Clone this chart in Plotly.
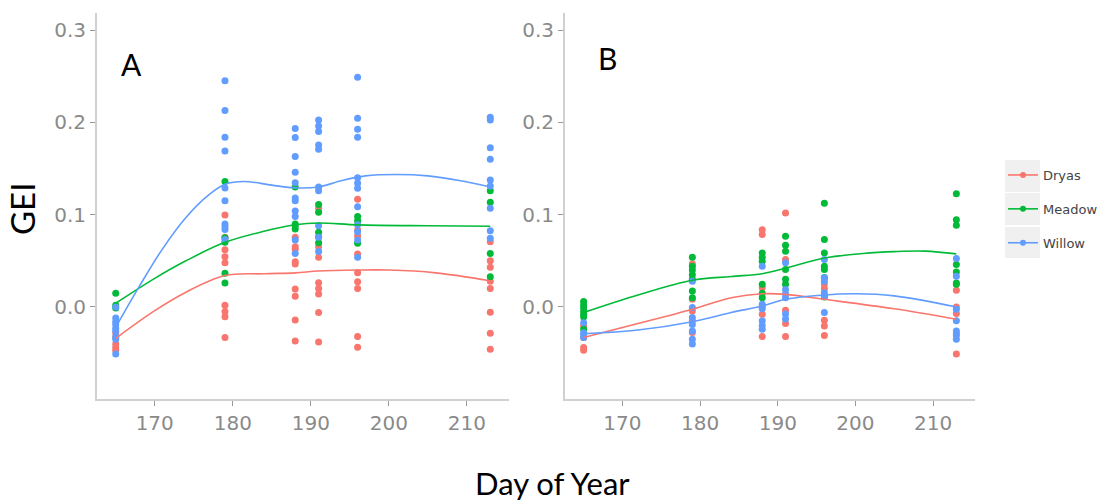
import plotly.graph_objects as go

# ---------------- data ----------------
DAYS = [165, 179, 188, 191, 196, 213]
GROUPS = ["Dryas", "Meadow", "Willow"]
COLORS = {"Dryas": "#F8766D", "Meadow": "#00BA38", "Willow": "#619CFF"}

# Panel A points (per day, aligned with DAYS)
A_DRYAS = [
    [-0.028, -0.033, -0.040, -0.044, -0.047],
    [0.0997, 0.0755, 0.062, 0.0545, 0.048, 0.002, -0.005, -0.0105, -0.033],
    [0.0755, 0.0653, 0.0625, 0.049, 0.0466, 0.0195, 0.0116, -0.014, -0.0368],
    [0.107, 0.0653, 0.0538, 0.0263, 0.020, 0.014, -0.006, -0.038],
    [0.1167, 0.0834, 0.077, 0.0574, 0.0372, 0.0274, 0.020, -0.032, -0.0437],
    [0.0708, 0.050, 0.043, 0.028, 0.020, -0.0057, -0.0285, -0.0458],
]
A_MEADOW = [
    [0.015, 0.002, -0.001],
    [0.136, 0.075, 0.070, 0.0365, 0.026],
    [0.130, 0.090, 0.088, 0.0845],
    [0.111, 0.1026, 0.081, 0.076, 0.0697],
    [0.098, 0.0935, 0.069],
    [0.126, 0.1134, 0.058, 0.0328],
]
A_WILLOW = [
    [0.0, -0.012, -0.016, -0.019, -0.023, -0.026, -0.032, -0.035, -0.051],
    [0.245, 0.213, 0.184, 0.169, 0.129, 0.115, 0.090, 0.087, 0.084, 0.073],
    [0.1935, 0.1835, 0.163, 0.146, 0.1347, 0.118, 0.115, 0.104, 0.098, 0.0726, 0.058],
    [0.2026, 0.196, 0.190, 0.1755, 0.171, 0.130, 0.126, 0.088, 0.0755, 0.060],
    [0.249, 0.2044, 0.1925, 0.184, 0.140, 0.134, 0.1286, 0.1087, 0.089, 0.0816, 0.0726, 0.054],
    [0.2055, 0.2026, 0.1726, 0.160, 0.1376, 0.131, 0.107, 0.0827, 0.0744],
]

# Panel B points
B_DRYAS = [
    [-0.0205, -0.033, -0.044, -0.047],
    [0.0467, 0.0083, -0.0043, -0.015, -0.0277],
    [0.0838, 0.0784, 0.0208, 0.0, -0.008, -0.032],
    [0.1017, 0.0514, -0.0036, -0.018, -0.032],
    [0.025, 0.020, -0.0144, -0.0205, -0.031],
    [0.018, 0.0, -0.0072, -0.031, -0.051],
]
B_MEADOW = [
    [0.0058, 0.0022, -0.0007, -0.0043, -0.0079, -0.0108, -0.024],
    [0.054, 0.044, 0.040, 0.035, 0.030, 0.0173, 0.010],
    [0.0586, 0.054, 0.0496, 0.0245, 0.015, 0.010],
    [0.0766, 0.0669, 0.0604, 0.0406, 0.030, 0.0245],
    [0.1125, 0.073, 0.0586, 0.044, 0.0406, 0.032, 0.0108],
    [0.1226, 0.0946, 0.0885, 0.046, 0.038, 0.026, 0.0245],
]
B_WILLOW = [
    [-0.017, -0.028, -0.030, -0.033],
    [0.028, -0.0007, -0.0115, -0.019, -0.026, -0.035, -0.040],
    [0.0442, 0.003, -0.002, -0.015, -0.020, -0.024],
    [0.0478, 0.019, 0.014, 0.010, -0.0076, -0.013],
    [0.0514, 0.0316, 0.028, 0.0154, 0.0119, -0.0061],
    [0.0525, 0.0334, -0.0025, -0.015, -0.026, -0.029, -0.035],
]

# Smooth (loess) curves
A_DRYAS_LINE_X = [165, 170, 174, 179, 184, 188, 191, 196, 200, 206, 213]
A_DRYAS_LINE_Y = [-0.034, -0.004, 0.016, 0.034, 0.036, 0.037, 0.039, 0.040, 0.040, 0.037, 0.0285]
A_MEADOW_LINE_X = [165, 170, 174, 179, 184, 188, 191, 196, 205, 213]
A_MEADOW_LINE_Y = [0.004, 0.031, 0.050, 0.070, 0.082, 0.089, 0.091, 0.089, 0.088, 0.0875]
A_WILLOW_LINE_X = [165, 168, 171, 174, 177, 179, 181.5, 185, 188, 191, 194, 197, 201, 205, 209, 213]
A_WILLOW_LINE_Y = [-0.022, 0.022, 0.063, 0.097, 0.122, 0.133, 0.136, 0.132, 0.129, 0.130, 0.137, 0.142, 0.1435, 0.142, 0.137, 0.130]

B_DRYAS_LINE_X = [165, 172, 179, 184, 188, 191, 196, 205, 213]
B_DRYAS_LINE_Y = [-0.033, -0.018, -0.0025, 0.010, 0.0143, 0.0137, 0.0083, -0.002, -0.0133]
B_MEADOW_LINE_X = [165, 172, 179, 184, 188, 191, 196, 201, 205, 209, 213]
B_MEADOW_LINE_Y = [-0.006, 0.013, 0.029, 0.033, 0.036, 0.042, 0.053, 0.058, 0.060, 0.0605, 0.0575]
B_WILLOW_LINE_X = [165, 172, 179, 184, 188, 191, 196, 200, 205, 213]
B_WILLOW_LINE_Y = [-0.029, -0.025, -0.016, -0.006, 0.001, 0.0083, 0.013, 0.0143, 0.012, 0.0]

X_TICKS = [170, 180, 190, 200, 210]
Y_TICKS = [0.0, 0.1, 0.2, 0.3]
Y_TICK_LABELS = ["0.0", "0.1", "0.2", "0.3"]

# ---------------- figure ----------------
W, H = 1112, 504
fig = go.Figure()


def px_x(p):
    return p / W


def px_y(p):
    return (H - p) / H


panels = {
    "A": dict(xa="x", ya="y",
              pts={"Dryas": A_DRYAS, "Meadow": A_MEADOW, "Willow": A_WILLOW},
              lines={"Dryas": (A_DRYAS_LINE_X, A_DRYAS_LINE_Y),
                     "Meadow": (A_MEADOW_LINE_X, A_MEADOW_LINE_Y),
                     "Willow": (A_WILLOW_LINE_X, A_WILLOW_LINE_Y)}),
    "B": dict(xa="x2", ya="y2",
              pts={"Dryas": B_DRYAS, "Meadow": B_MEADOW, "Willow": B_WILLOW},
              lines={"Dryas": (B_DRYAS_LINE_X, B_DRYAS_LINE_Y),
                     "Meadow": (B_MEADOW_LINE_X, B_MEADOW_LINE_Y),
                     "Willow": (B_WILLOW_LINE_X, B_WILLOW_LINE_Y)}),
}

for pname, p in panels.items():
    for g in GROUPS:
        xs, ys = [], []
        for d, vals in zip(DAYS, p["pts"][g]):
            xs += [d] * len(vals)
            ys += vals
        fig.add_trace(go.Scatter(
            x=xs, y=ys, mode="markers", xaxis=p["xa"], yaxis=p["ya"],
            marker=dict(size=7, color=COLORS[g]), showlegend=False,
            hoverinfo="skip"))
    for g in GROUPS:
        lx, ly = p["lines"][g]
        fig.add_trace(go.Scatter(
            x=lx, y=ly, mode="lines", xaxis=p["xa"], yaxis=p["ya"],
            line=dict(color=COLORS[g], width=1.6, shape="spline", smoothing=1.0),
            showlegend=False, hoverinfo="skip"))

# legend entries
for g in GROUPS:
    fig.add_trace(go.Scatter(
        x=[None], y=[None], mode="lines+markers", name=g, legendgroup=g,
        line=dict(color=COLORS[g], width=1.6), marker=dict(size=6, color=COLORS[g]),
        xaxis="x2", yaxis="y2"))

X_RANGE = [162.6, 215.4]
Y_RANGE = [-0.0997, 0.3185]

axis_common = dict(
    showgrid=False, zeroline=False, showline=True, linecolor="#d0d0d0", linewidth=2,
    ticks="outside", ticklen=5, tickwidth=1, tickcolor="#999999",
    tickfont=dict(family="DejaVu Sans", size=20, color="#8a8a8a"),
)

dom_y = [px_y(399), px_y(13)]
fig.update_layout(
    width=W, height=H, autosize=False,
    margin=dict(l=0, r=0, t=0, b=0),
    paper_bgcolor="white", plot_bgcolor="white",
    xaxis=dict(domain=[px_x(97), px_x(509)], range=X_RANGE, tickvals=X_TICKS,
               anchor="y", **axis_common),
    yaxis=dict(domain=dom_y, range=Y_RANGE, tickvals=Y_TICKS, ticktext=Y_TICK_LABELS,
               anchor="x", **axis_common),
    xaxis2=dict(domain=[px_x(565), px_x(975)], range=X_RANGE, tickvals=X_TICKS,
                anchor="y2", **axis_common),
    yaxis2=dict(domain=dom_y, range=Y_RANGE, tickvals=Y_TICKS, ticktext=Y_TICK_LABELS,
                anchor="x2", **axis_common),
    legend=dict(x=px_x(1003), y=px_y(160), xanchor="left", yanchor="top",
                bgcolor="rgba(0,0,0,0)", borderwidth=0,
                font=dict(family="DejaVu Sans", size=13, color="#444444"),
                tracegroupgap=14, itemwidth=30),
    showlegend=True,
)

# grey legend key backgrounds
for top, bot in [(160, 192), (193, 225), (227, 258)]:
    fig.add_shape(type="rect", xref="paper", yref="paper",
                  x0=px_x(1005), x1=px_x(1040), y0=px_y(bot), y1=px_y(top),
                  fillcolor="#f0f0f0", line=dict(width=0), layer="below")

# panel letters and slide-level axis titles
ann_font = dict(family="Lato", color="black")
ann_common = dict(xref="paper", yref="paper", showarrow=False,
                  xanchor="center", yanchor="middle")
fig.add_annotation(text="A", x=px_x(131), y=px_y(64), font=dict(size=30, **ann_font),
                   **ann_common)
fig.add_annotation(text="B", x=px_x(607), y=px_y(57.5), font=dict(size=30, **ann_font),
                   **ann_common)
fig.add_annotation(text="GEI", x=px_x(22.5), y=px_y(209.5), textangle=-90,
                   font=dict(size=33, **ann_font), **ann_common)
fig.add_annotation(text="Day of Year", x=px_x(552.5), y=px_y(483),
                   font=dict(size=31, **ann_font), **ann_common)

# remove the default 8px page margin so the 1112x504 figure fills the window exactly
fig.write_html("out.html",
               config={"displayModeBar": False},
               post_script="document.body.style.margin='0';document.body.style.overflow='hidden';")
